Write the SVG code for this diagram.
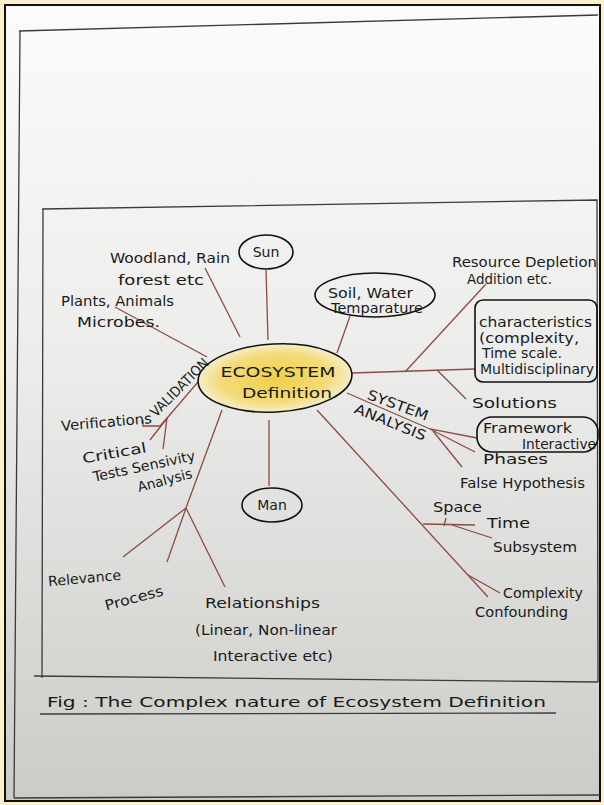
<svg xmlns="http://www.w3.org/2000/svg" width="604" height="805" viewBox="0 0 604 805">
<defs>
<linearGradient id="paper" x1="0" y1="0" x2="0" y2="1">
<stop offset="0" stop-color="#fbfbfa"/>
<stop offset="0.45" stop-color="#ecedeb"/>
<stop offset="1" stop-color="#cbcbc7"/>
</linearGradient>
<radialGradient id="yel" cx="0.5" cy="0.5" r="0.5">
<stop offset="0" stop-color="#f1cf45"/>
<stop offset="0.7" stop-color="#f3db79"/>
<stop offset="1" stop-color="#f6edc8"/>
</radialGradient>
<style>
.t{font-family:"DejaVu Sans","Liberation Sans",sans-serif;font-size:14px;fill:#1a1a1a}
.c{text-anchor:middle}
.ln{stroke:#8c4b42;stroke-width:1.3;fill:none}
.pg{stroke:#3a3a3a;stroke-width:1.3;fill:none}
.nd{stroke:#111;stroke-width:1.6;fill:none}
</style>
</defs>
<rect x="0" y="0" width="604" height="805" fill="#fdf1cc"/>
<rect x="5" y="5" width="595" height="796" fill="url(#paper)" stroke="#111" stroke-width="2"/>
<g id="page">
<path class="pg" d="M19 31 L598 15"/>
<path class="pg" d="M20 31 L14 798"/>
<path class="pg" d="M14 798 L600 795"/>
<path class="pg" d="M42 209 L597 200 L598 682"/>
<path class="pg" d="M43 209 L42 678"/>
<path class="pg" d="M34 676 L598 682"/>
<path class="pg" d="M40 714 L556 713" stroke-width="1.5"/>
<text class="t" x="47" y="707" font-size="19" textLength="499" lengthAdjust="spacingAndGlyphs">Fig : The Complex nature of Ecosystem Definition</text>
</g>
<g id="connectors">
<path class="ln" d="M266 270 L268 340"/>
<path class="ln" d="M205 268 L240 337"/>
<path class="ln" d="M115 307 L207 357"/>
<path class="ln" d="M198 382 L168 417"/>
<path class="ln" d="M143 420 L143 426 L160 426 L168 417"/>
<path class="ln" d="M150 440 L168 417"/>
<path class="ln" d="M163 449 L167 418"/>
<path class="ln" d="M222 410 L186 508"/>
<path class="ln" d="M186 508 L123 557"/>
<path class="ln" d="M186 508 L167 562"/>
<path class="ln" d="M186 508 L225 587"/>
<path class="ln" d="M269 420 L269 486"/>
<path class="ln" d="M350 316 L337 353"/>
<path class="ln" d="M352 373 L475 369"/>
<path class="ln" d="M405 372 L486 284"/>
<path class="ln" d="M437 370 L466 399"/>
<path class="ln" d="M347 393 L430 429 L477 438"/>
<path class="ln" d="M430 429 L475 452"/>
<path class="ln" d="M433 431 L462 467"/>
<path class="ln" d="M317 410 L488 597"/>
<path class="ln" d="M423 524 L475 525"/>
<path class="ln" d="M446 518 L444 526"/>
<path class="ln" d="M452 525 L492 538"/>
<path class="ln" d="M468 575 L500 593"/>
</g>
<g id="ecosystem">
<ellipse cx="275" cy="378" rx="77" ry="34" fill="url(#yel)" stroke="#111" stroke-width="1.6" transform="rotate(-3 275 378)"/>
<text class="t c" x="278" y="377" font-size="16" textLength="115" lengthAdjust="spacingAndGlyphs">ECOSYSTEM</text>
<text class="t c" x="287" y="398" font-size="16" textLength="90" lengthAdjust="spacingAndGlyphs">Definition</text>
</g>
<g id="sun">
<ellipse class="nd" cx="266" cy="252" rx="27" ry="17"/>
<text class="t c" x="266" y="257" font-size="15">Sun</text>
</g>
<g id="woodland">
<text class="t" x="110" y="263" textLength="120" lengthAdjust="spacingAndGlyphs">Woodland, Rain</text>
<text class="t" x="118" y="285" textLength="86" lengthAdjust="spacingAndGlyphs">forest etc</text>
</g>
<g id="plants">
<text class="t" x="61" y="306" textLength="113" lengthAdjust="spacingAndGlyphs">Plants, Animals</text>
<text class="t" x="77" y="327" textLength="83" lengthAdjust="spacingAndGlyphs">Microbes.</text>
</g>
<g id="soil">
<ellipse class="nd" cx="375" cy="295" rx="60" ry="22"/>
<text class="t" x="328" y="298" font-size="13" textLength="85" lengthAdjust="spacingAndGlyphs">Soil, Water</text>
<text class="t" x="331" y="313" font-size="13" textLength="92" lengthAdjust="spacingAndGlyphs">Temparature</text>
</g>
<g id="resource">
<text class="t" x="452" y="267" font-size="13.5" textLength="145" lengthAdjust="spacingAndGlyphs">Resource Depletion</text>
<text class="t" x="467" y="284" font-size="13.5" textLength="85" lengthAdjust="spacingAndGlyphs">Addition etc.</text>
</g>
<g id="characteristics">
<rect class="nd" x="475" y="300" width="122" height="82" rx="8"/>
<text class="t" x="479" y="327" font-size="13" textLength="113" lengthAdjust="spacingAndGlyphs">characteristics</text>
<text class="t" x="479" y="343" font-size="13" textLength="100" lengthAdjust="spacingAndGlyphs">(complexity,</text>
<text class="t" x="482" y="358" font-size="13" textLength="80" lengthAdjust="spacingAndGlyphs">Time scale.</text>
<text class="t" x="480" y="374" font-size="13" textLength="114" lengthAdjust="spacingAndGlyphs">Multidisciplinary</text>
</g>
<g id="solutions">
<text class="t" x="472" y="408" textLength="85" lengthAdjust="spacingAndGlyphs">Solutions</text>
</g>
<g id="system-analysis">
<text class="t c" x="398" y="410" font-size="13" transform="rotate(20 398 405)" textLength="64" lengthAdjust="spacingAndGlyphs">SYSTEM</text>
<text class="t c" x="390" y="427" font-size="11" transform="rotate(22 390 423)" textLength="76" lengthAdjust="spacingAndGlyphs">ANALYSIS</text>
</g>
<g id="framework">
<rect class="nd" x="477" y="417" width="121" height="35" rx="15"/>
<text class="t" x="483" y="433" font-size="12" textLength="89" lengthAdjust="spacingAndGlyphs">Framework</text>
<text class="t" x="522" y="449" font-size="12" textLength="74" lengthAdjust="spacingAndGlyphs">Interactive</text>
</g>
<g id="phases">
<text class="t" x="483" y="464" textLength="65" lengthAdjust="spacingAndGlyphs">Phases</text>
</g>
<g id="false-hypothesis">
<text class="t" x="460" y="488" textLength="125" lengthAdjust="spacingAndGlyphs">False Hypothesis</text>
</g>
<g id="space">
<text class="t" x="433" y="512" font-size="13" textLength="49" lengthAdjust="spacingAndGlyphs">Space</text>
</g>
<g id="time">
<text class="t" x="487" y="528" textLength="43" lengthAdjust="spacingAndGlyphs">Time</text>
</g>
<g id="subsystem">
<text class="t" x="493" y="552" textLength="84" lengthAdjust="spacingAndGlyphs">Subsystem</text>
</g>
<g id="complexity">
<text class="t" x="503" y="598" textLength="80" lengthAdjust="spacingAndGlyphs">Complexity</text>
<text class="t" x="475" y="617" textLength="93" lengthAdjust="spacingAndGlyphs">Confounding</text>
</g>
<g id="man">
<ellipse class="nd" cx="272" cy="505" rx="30" ry="17"/>
<text class="t c" x="272" y="510" font-size="15">Man</text>
</g>
<g id="validation">
<text class="t c" x="180" y="392" font-size="11" transform="rotate(-45 180 388)" textLength="76" lengthAdjust="spacingAndGlyphs">VALIDATION</text>
<text class="t" x="61" y="427" font-size="13" transform="rotate(-5 106 423)" textLength="91" lengthAdjust="spacingAndGlyphs">Verifications</text>
<text class="t" x="82" y="458" transform="rotate(-10 114 454)" textLength="65" lengthAdjust="spacingAndGlyphs">Critical</text>
<text class="t c" x="144" y="471" font-size="13" transform="rotate(-12 144 466)" textLength="104" lengthAdjust="spacingAndGlyphs">Tests Sensivity</text>
<text class="t c" x="165" y="485" font-size="13" transform="rotate(-15 165 481)" textLength="56" lengthAdjust="spacingAndGlyphs">Analysis</text>
</g>
<g id="relevance">
<text class="t" x="48" y="583" font-size="13" transform="rotate(-5 85 578)" textLength="73" lengthAdjust="spacingAndGlyphs">Relevance</text>
</g>
<g id="process">
<text class="t c" x="134" y="603" transform="rotate(-15 134 598)" textLength="60" lengthAdjust="spacingAndGlyphs">Process</text>
</g>
<g id="relationships">
<text class="t" x="205" y="608" textLength="115" lengthAdjust="spacingAndGlyphs">Relationships</text>
<text class="t" x="195" y="635" textLength="142" lengthAdjust="spacingAndGlyphs">(Linear, Non-linear</text>
<text class="t" x="213" y="661" textLength="120" lengthAdjust="spacingAndGlyphs">Interactive etc)</text>
</g>
</svg>
